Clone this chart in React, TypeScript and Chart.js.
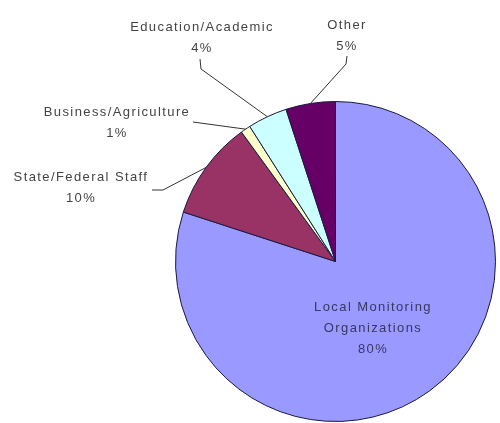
import React, { useEffect, useRef } from "react";
import { Chart, registerables } from "chart.js";

Chart.register(...registerables);

const categories = [
  "Local Monitoring Organizations",
  "State/Federal Staff",
  "Business/Agriculture",
  "Education/Academic",
  "Other",
];
const values = [80, 10, 1, 4, 5];
const labelLines = [
  ["Local Monitoring", "Organizations", "80%"],
  ["State/Federal Staff", "10%"],
  ["Business/Agriculture", "1%"],
  ["Education/Academic", "4%"],
  ["Other", "5%"],
];
const colors = ["#9999FF", "#993366", "#FFFFCC", "#CCFFFF", "#660066"];

// label placement (styling): text centre x, first line y, elbow points for leader
const placement = [
  { x: 373, y: 307, inside: true, elbow: [] as number[][] },
  { x: 81, y: 177, inside: false, elbow: [[152, 190], [163, 190]] },
  { x: 117, y: 112, inside: false, elbow: [[193, 122]] },
  { x: 202, y: 27, inside: false, elbow: [[200, 59], [201, 69]] },
  { x: 347, y: 25, inside: false, elbow: [[347, 56], [346, 64]] },
];

const labelPlugin = {
  id: "pieLabels",
  afterDatasetsDraw(chart: any) {
    const ctx = chart.ctx;
    const meta = chart.getDatasetMeta(0);
    ctx.save();
    meta.data.forEach((arc: any, i: number) => {
      const p = placement[i];
      const { x, y, startAngle, endAngle, outerRadius } = arc.getProps(
        ["x", "y", "startAngle", "endAngle", "outerRadius"],
        true
      );
      const mid = (startAngle + endAngle) / 2;
      if (!p.inside) {
        const ex = x + Math.cos(mid) * outerRadius;
        const ey = y + Math.sin(mid) * outerRadius;
        ctx.beginPath();
        ctx.strokeStyle = "#333333";
        ctx.lineWidth = 1;
        p.elbow.forEach((pt, k) => {
          if (k === 0) ctx.moveTo(pt[0], pt[1]);
          else ctx.lineTo(pt[0], pt[1]);
        });
        ctx.lineTo(ex, ey);
        ctx.stroke();
      }
      ctx.font = "13px 'Liberation Sans', Arial, sans-serif";
      (ctx as any).letterSpacing = "1.4px";
      ctx.fillStyle = p.inside ? "#383860" : "#444444";
      ctx.textAlign = "center";
      ctx.textBaseline = "middle";
      labelLines[i].forEach((t, k) => {
        ctx.fillText(t, p.x, p.y + k * 21);
      });
    });
    ctx.restore();
  },
};

export default function App() {
  const ref = useRef<HTMLCanvasElement>(null);
  useEffect(() => {
    if (!ref.current) return;
    const chart = new Chart(ref.current, {
      type: "pie",
      data: {
        labels: categories,
        datasets: [
          {
            data: values,
            backgroundColor: colors,
            borderColor: "#1a1a40",
            borderWidth: 1,
          },
        ],
      },
      options: {
        animation: false,
        responsive: false,
        events: [],
        layout: { padding: { left: 175, top: 101, right: 4, bottom: 1 } },
        plugins: {
          legend: { display: false },
          tooltip: { enabled: false },
        },
      },
      plugins: [labelPlugin],
    });
    return () => chart.destroy();
  }, []);
  return (
    <div style={{ position: "fixed", left: 0, top: 0, width: 500, height: 423, background: "#fff" }}>
      <canvas ref={ref} width={500} height={423} style={{ width: 500, height: 423 }} />
    </div>
  );
}
